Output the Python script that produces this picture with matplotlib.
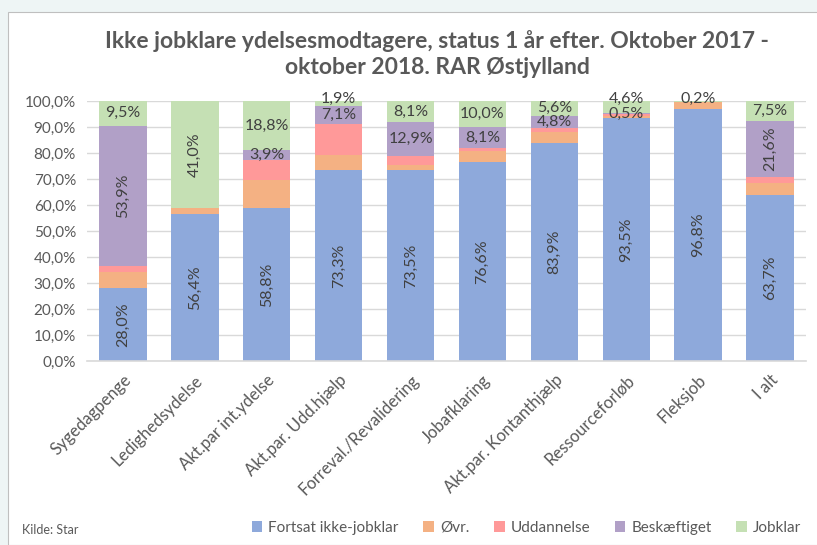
import matplotlib

matplotlib.use("Agg")
import matplotlib.pyplot as plt
import numpy as np
from matplotlib.patches import Rectangle

plt.rcParams["font.family"] = ["Lato", "DejaVu Sans"]

categories = [
    "Sygedagpenge", "Ledighedsydelse", "Akt.par int.ydelse", "Akt.par. Udd.hjælp",
    "Forreval./Revalidering", "Jobafklaring", "Akt.par. Kontanthjælp",
    "Ressourceforløb", "Fleksjob", "I alt",
]
fortsat = [28.0, 56.4, 58.8, 73.3, 73.5, 76.6, 83.9, 93.5, 96.8, 63.7]
ovr = [6.4, 2.6, 11.0, 5.9, 1.9, 4.2, 4.1, 0.8, 3.0, 4.7]
uddannelse = [2.2, 0.0, 7.5, 11.8, 3.6, 1.1, 1.6, 0.6, 0.0, 2.5]
beskaeftiget = [53.9, 0.0, 3.9, 7.1, 12.9, 8.1, 4.8, 0.5, 0.0, 21.6]
jobklar = [9.5, 41.0, 18.8, 1.9, 8.1, 10.0, 5.6, 4.6, 0.2, 7.5]

series = [
    ("Fortsat ikke-jobklar", fortsat, "#8EA9DB", True),
    ("Øvr.", ovr, "#F4B183", False),
    ("Uddannelse", uddannelse, "#FF9999", False),
    ("Beskæftiget", beskaeftiget, "#B1A0C7", True),
    ("Jobklar", jobklar, "#C5E0B4", True),
]

text_col = "#595959"
label_col = "#404040"

fig = plt.figure(figsize=(8.17, 5.45), dpi=100)
fig.patch.set_facecolor("#EEF5F5")
# white chart panel
fig.add_artist(Rectangle((8 / 817, 0), 1, 1 - 12 / 545, transform=fig.transFigure,
                         facecolor="white", edgecolor="#BFBFBF", lw=0.8, zorder=0))

ax = fig.add_axes([87 / 817, 1 - 361 / 545, 719 / 817, 260 / 545])
ax.set_facecolor("white")
x = np.arange(len(categories))
bottom = np.zeros(len(categories))
for name, vals, color, labelled in series:
    vals = np.array(vals)
    ax.bar(x, vals, 0.66, bottom=bottom, color=color, label=name, zorder=2)
    if labelled:
        for i, v in enumerate(vals):
            if v <= 0:
                continue
            y = bottom[i] + v / 2
            rot = 90 if v > 20 else 0
            if name == "Jobklar" and v < 5:
                y = 100.9
            ax.text(i, y, f"{v:.1f}%".replace(".", ","), ha="center", va="center",
                    rotation=rot, fontsize=11.5, color=label_col, zorder=3,
                    clip_on=False)
    bottom += vals

ax.set_ylim(0, 100)
ax.set_xlim(-0.5, len(categories) - 0.5)
ax.set_yticks(np.arange(0, 101, 10))
ax.set_yticklabels([f"{t:.1f}%".replace(".", ",") for t in np.arange(0, 101, 10)],
                   fontsize=11, color=text_col)
ax.set_xticks(x)
ax.set_xticklabels(categories, rotation=45, ha="right", rotation_mode="anchor",
                   fontsize=12, color=text_col)
ax.tick_params(axis="both", length=0, pad=8)
ax.grid(axis="y", color="#D9D9D9", lw=1, zorder=0)
for s in ["top", "right", "left"]:
    ax.spines[s].set_visible(False)
ax.spines["bottom"].set_color("#D9D9D9")
ax.spines["bottom"].set_linewidth(1.2)

fig.text(437 / 817, 1 - 54 / 545,
         "Ikke jobklare ydelsesmodtagere, status 1 år efter. Oktober 2017 -\noktober 2018. RAR Østjylland",
         ha="center", va="center", fontsize=16.5, fontweight="bold", color=text_col,
         linespacing=1.32)

fig.legend(loc="center right", bbox_to_anchor=(815 / 817, 1 - 528 / 545), ncol=5,
           frameon=False, fontsize=11, handlelength=0.7, handleheight=0.7,
           handletextpad=0.4, columnspacing=1.6, labelcolor=text_col)
fig.text(22 / 817, 1 - 530 / 545, "Kilde: Star", fontsize=9, color=text_col,
         va="center")

fig.savefig("out.png", dpi=100)
